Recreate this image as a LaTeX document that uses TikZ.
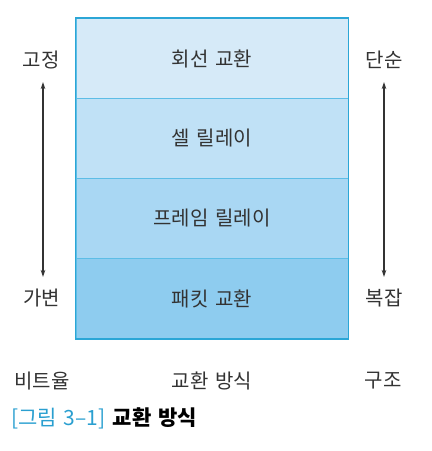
\documentclass[tikz,border=0pt]{standalone}
\usepackage{fontspec}
\setmainfont{Noto Sans CJK KR}[WordSpace=1.5]
\usetikzlibrary{arrows.meta}
\definecolor{rowA}{HTML}{D6EAF8}
\definecolor{rowB}{HTML}{C0E1F6}
\definecolor{rowC}{HTML}{A9D7F3}
\definecolor{rowD}{HTML}{8ECCEF}
\definecolor{frameblue}{HTML}{2BA6D6}
\definecolor{divblue}{HTML}{5DBDE6}
\definecolor{txt}{HTML}{333333}
\definecolor{capblue}{HTML}{2A9FD0}
\tikzset{
  x=1pt, y=-1pt,
  rowbox/.style={draw=divblue, line width=0.8pt, minimum width=272pt, minimum height=80pt, inner sep=0pt, font=\fontsize{20}{24}\selectfont, text=txt},
  sidelabel/.style={font=\fontsize{20}{24}\selectfont, text=txt, inner sep=0pt},
  vert/.style={draw=txt, line width=1.1pt, {Stealth[length=7pt,width=4.5pt]}-{Stealth[length=7pt,width=4.5pt]}}
}
\begin{document}
\begin{tikzpicture}
\useasboundingbox (0,0) rectangle (432,451);
\node[rowbox, fill=rowA] (r1) at (212,58.5) {회선 교환};
\node[rowbox, fill=rowB] (r2) at (212,138.5) {셀 릴레이};
\node[rowbox, fill=rowC] (r3) at (212,218.5) {프레임 릴레이};
\node[rowbox, fill=rowD] (r4) at (212,298.5) {패킷 교환};
\draw[frameblue, line width=1.6pt] (r1.north west) rectangle (r4.south east);
\node[sidelabel] (l1) at (41,60) {고정};
\node[sidelabel] (l2) at (42,298) {가변};
\node[sidelabel] (rt1) at (384,60) {단순};
\node[sidelabel] (rt2) at (384,298) {복잡};
\coordinate (la) at (43,82);
\coordinate (lb) at (43,277);
\coordinate (ra) at (384,82);
\coordinate (rb) at (384,277);
\draw[vert] (la) -- (lb);
\draw[vert] (ra) -- (rb);
\node[sidelabel] (b1) at (42,381) {비트율};
\node[sidelabel] (b2) at (212,381) {교환 방식};
\node[sidelabel] (b3) at (383,381) {구조};
\node[anchor=west, inner sep=0pt, font=\fontsize{21}{25}\selectfont] (cap) at (11,418) {{\color{capblue}[그림 3–1]} \textbf{교환 방식}};
\end{tikzpicture}
\end{document}
